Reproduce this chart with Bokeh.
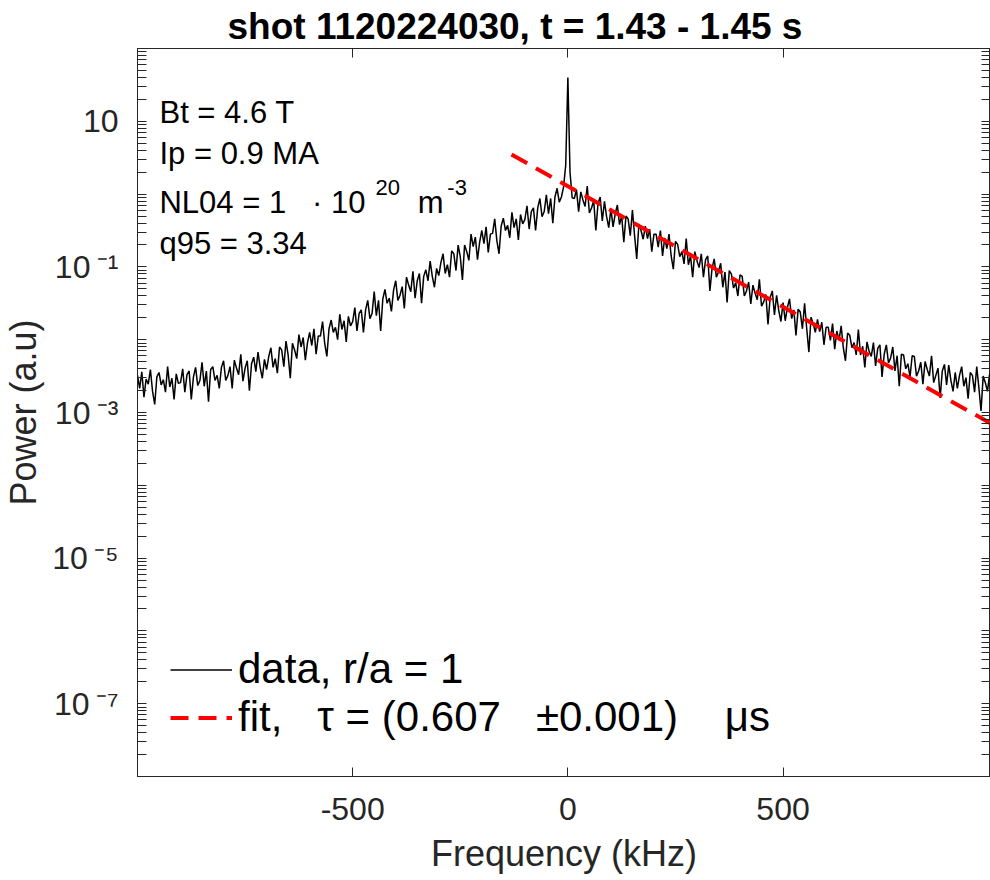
import numpy as np
from bokeh.plotting import figure
from bokeh.models import (ColumnDataSource, FixedTicker, LogAxis, LinearAxis, Label,
                          Legend, LegendItem, Range1d)
from bokeh.embed import file_html
from bokeh.resources import INLINE

# ---------------- data ----------------
# spectral bins, 5 kHz apart, -1000 ... 1000 kHz
freq_khz = np.arange(-1000, 1001, 5)

# log10 of power, negative frequencies (-1000 ... -5 kHz)
log_power_neg = [
    -2.49, -2.67, -2.44, -2.79, -2.54, -2.61, -2.41, -2.71, -2.89, -2.51, -2.45, -2.62, -2.55, -2.72, -2.37, -2.65, -2.53, -2.82, -2.47, -2.60,
    -2.59, -2.40, -2.72, -2.48, -2.43, -2.82, -2.51, -2.38, -2.63, -2.56, -2.31, -2.64, -2.43, -2.85, -2.41, -2.37, -2.56, -2.49, -2.67, -2.38,
    -2.29, -2.56, -2.49, -2.37, -2.67, -2.28, -2.39, -2.48, -2.20, -2.57, -2.39, -2.29, -2.70, -2.33, -2.24, -2.44, -2.17, -2.38, -2.53, -2.27,
    -2.41, -2.23, -2.11, -2.38, -2.26, -2.46, -2.10, -2.14, -2.37, -2.02, -2.21, -2.53, -2.05, -2.14, -2.26, -1.93, -2.10, -1.97, -2.28, -2.04,
    -1.90, -2.08, -1.85, -2.20, -1.95, -1.95, -1.75, -2.05, -2.23, -1.85, -1.73, -1.90, -1.83, -2.00, -1.65, -1.86, -1.74, -2.03, -1.68, -1.81,
    -1.75, -1.56, -1.88, -1.64, -1.59, -1.90, -1.59, -1.46, -1.71, -1.64, -1.34, -1.67, -1.46, -1.88, -1.44, -1.31, -1.50, -1.43, -1.61, -1.32,
    -1.19, -1.46, -1.39, -1.27, -1.57, -1.14, -1.25, -1.34, -1.06, -1.43, -1.19, -1.09, -1.50, -1.13, -1.04, -1.19, -0.92, -1.13, -1.28, -1.02,
    -1.12, -0.94, -0.82, -1.09, -0.97, -1.14, -0.78, -0.82, -1.05, -0.70, -0.86, -1.18, -0.70, -0.79, -0.91, -0.55, -0.72, -0.59, -0.90, -0.66,
    -0.50, -0.68, -0.45, -0.80, -0.55, -0.54, -0.34, -0.64, -0.82, -0.44, -0.33, -0.50, -0.43, -0.60, -0.25, -0.46, -0.34, -0.63, -0.28, -0.41,
    -0.35, -0.16, -0.48, -0.24, -0.19, -0.50, -0.19, -0.06, -0.31, -0.24, -0.01, -0.27, -0.06, -0.40, -0.04, 0.08, -0.11, -0.04, 0.10, 0.40,
]
# log10 of power at 0 kHz (narrow peak)
log_power_zero = [1.60]
# log10 of power, positive frequencies (5 ... 1000 kHz)
log_power_pos = [
    0.30, -0.05, -0.06, 0.06, -0.24, 0.03, -0.08, -0.17, 0.11, -0.26, -0.19, -0.09, -0.50, -0.13, -0.04, -0.37, -0.10, -0.31, -0.46, -0.20,
    -0.45, -0.27, -0.15, -0.42, -0.30, -0.66, -0.30, -0.34, -0.57, -0.22, -0.57, -0.89, -0.41, -0.50, -0.62, -0.44, -0.61, -0.48, -0.79, -0.55,
    -0.55, -0.73, -0.50, -0.85, -0.60, -0.75, -0.55, -0.85, -1.03, -0.65, -0.69, -0.86, -0.79, -0.96, -0.61, -0.97, -0.85, -1.14, -0.79, -0.92,
    -1.01, -0.82, -1.14, -0.90, -0.85, -1.33, -1.02, -0.89, -1.14, -1.07, -0.95, -1.28, -1.07, -1.49, -1.05, -1.10, -1.29, -1.22, -1.40, -1.11,
    -1.13, -1.40, -1.33, -1.21, -1.51, -1.25, -1.36, -1.45, -1.17, -1.54, -1.48, -1.38, -1.79, -1.42, -1.33, -1.66, -1.39, -1.60, -1.75, -1.49,
    -1.74, -1.56, -1.44, -1.71, -1.59, -1.94, -1.58, -1.62, -1.85, -1.50, -1.85, -2.17, -1.69, -1.78, -1.90, -1.72, -1.89, -1.76, -2.07, -1.83,
    -1.83, -2.01, -1.78, -2.13, -1.88, -2.01, -1.81, -2.11, -2.29, -1.91, -1.94, -2.11, -2.04, -2.21, -1.86, -2.21, -2.09, -2.38, -2.03, -2.16,
    -2.23, -2.04, -2.36, -2.12, -2.07, -2.51, -2.20, -2.07, -2.32, -2.25, -2.10, -2.43, -2.22, -2.64, -2.20, -2.21, -2.40, -2.33, -2.51, -2.22,
    -2.23, -2.50, -2.43, -2.31, -2.61, -2.30, -2.41, -2.50, -2.22, -2.59, -2.49, -2.39, -2.80, -2.43, -2.34, -2.62, -2.35, -2.56, -2.71, -2.45,
    -2.67, -2.49, -2.37, -2.64, -2.52, -2.81, -2.45, -2.49, -2.72, -2.37, -2.66, -2.98, -2.50, -2.59, -2.71, -2.47, -2.64, -2.51, -2.82, -2.58,
]

# exponential fit (straight line on the log axis)
fit_freq_khz = [-131, 982]
fit_power = [3.50, 7.1e-4]

# axis ticks
x_ticks = [-500, 0, 500]
x_tick_labels = {-500: "-500", 0: "0", 500: "500"}
y_ticks = [1e-7, 1e-5, 1e-3, 1e-1, 1e1]
y_tick_labels = {1e1: "10", 1e-1: "10\u2009\u207b\u00b9", 1e-3: "10\u2009\u207b\u00b3",
                 1e-5: "10\u2009\u207b\u2075", 1e-7: "10\u2009\u207b\u2077"}

NB = "\u00a0"  # non-breaking space (kept by SVG text)
data_label = "data, r/a = 1"
fit_label = "fit," + NB * 3 + "\u03c4 = (0.607" + NB * 3 + "\u00b10.001)" + NB * 4 + "\u03bcs"

# ---------------- build ----------------
log_power = log_power_neg + log_power_zero + log_power_pos
assert len(log_power) == len(freq_khz)
power = 10.0 ** np.array(log_power)

src = ColumnDataSource(dict(f=freq_khz, p=power))
fit_src = ColumnDataSource(dict(f=fit_freq_khz, p=fit_power))

FONT = "Liberation Sans"
AX = "#262626"

p = figure(width=990, height=880, output_backend="svg", toolbar_location=None,
           x_range=Range1d(-1000, 982), y_range=Range1d(1e-8, 1e2), y_axis_type="log",
           min_border_left=137, min_border_right=0, min_border_top=48, min_border_bottom=104)
p.background_fill_color = "white"
p.border_fill_color = "white"
p.outline_line_color = AX
p.xgrid.visible = False
p.ygrid.visible = False

minor = []
for k in range(-8, 2):
    for m in range(1, 10):
        v = m * 10.0 ** k
        if not any(abs(v - t) / t < 1e-9 for t in y_ticks):
            minor.append(v)
minor.append(1e2)
yticker = FixedTicker(ticks=y_ticks, minor_ticks=minor)
xticker = FixedTicker(ticks=x_ticks)

# bottom axis
xa = p.xaxis[0]
xa.ticker = xticker
xa.major_label_overrides = x_tick_labels
xa.axis_label = "Frequency (kHz)"
xa.axis_line_color = AX
xa.major_tick_line_color = AX
xa.major_tick_in = 9
xa.major_tick_out = 0
xa.minor_tick_in = 0
xa.minor_tick_out = 0
xa.major_label_text_font = FONT
xa.major_label_text_font_size = "32px"
xa.major_label_text_color = AX
xa.major_label_standoff = 21
xa.axis_label_text_font = FONT
xa.axis_label_text_font_size = "36px"
xa.axis_label_text_font_style = "normal"
xa.axis_label_text_color = AX
xa.axis_label_standoff = 10

ya = p.yaxis[0]
ya.ticker = yticker
ya.major_label_overrides = y_tick_labels
ya.axis_label = "Power (a.u)"
ya.axis_line_color = AX
ya.major_tick_line_color = AX
ya.minor_tick_line_color = AX
ya.major_tick_in = 9
ya.major_tick_out = 0
ya.minor_tick_in = 9
ya.minor_tick_out = 0
ya.major_label_text_font = FONT
ya.major_label_text_font_size = "32px"
ya.major_label_text_color = AX
ya.major_label_standoff = 19
ya.axis_label_text_font = FONT
ya.axis_label_text_font_size = "36px"
ya.axis_label_text_font_style = "normal"
ya.axis_label_text_color = AX
ya.axis_label_standoff = 5

top = LinearAxis(ticker=xticker, major_label_overrides={t: "" for t in x_ticks},
                 major_label_standoff=0, major_label_text_font_size="10px",
                 major_tick_in=9, major_tick_out=0, minor_tick_in=0, minor_tick_out=0,
                 axis_line_color=AX, major_tick_line_color=AX)
right = LogAxis(ticker=yticker, major_label_overrides={t: "" for t in y_ticks},
                major_label_standoff=0, major_label_text_font_size="10px",
                major_tick_in=9, major_tick_out=0, minor_tick_in=9, minor_tick_out=0,
                axis_line_color=AX, major_tick_line_color=AX, minor_tick_line_color=AX)
p.add_layout(top, "above")
p.add_layout(right, "right")

p.title.text = "shot 1120224030, t = 1.43 - 1.45 s"
p.title.align = "left"
p.title.offset = 90
p.title.text_font = FONT
p.title.text_font_size = "37px"
p.title.text_font_style = "bold"
p.title.text_color = "black"
p.title.standoff = 4

r_data = p.line("f", "p", source=src, line_color="black", line_width=1.5)
r_fit = p.line("f", "p", source=fit_src, line_color="#ff0000", line_width=4, line_dash="18 10")

legend = Legend(items=[LegendItem(label=data_label, renderers=[r_data]),
                       LegendItem(label=fit_label, renderers=[r_fit])],
                location=(33, 35), padding=0, margin=0, spacing=0,
                glyph_width=62, glyph_height=45, label_height=45, label_standoff=6,
                label_text_font=FONT, label_text_font_size="42px", label_text_color="black",
                border_line_alpha=0, background_fill_alpha=0)
p.add_layout(legend, "center")

# annotation text (placed in data coordinates)
def lab(x, y, t, size):
    p.add_layout(Label(x=x, y=y, text=t, text_font=FONT, text_font_size=size,
                       text_color="black", text_align="left", text_baseline="alphabetic"))

lab(-949, 13.2, "Bt = 4.6 T", "31px")
lab(-949, 3.61, "Ip = 0.9 MA", "31px")
lab(-949, 0.767, "NL04 = 1" + NB * 3 + "\u00b7 10", "31px")
lab(-447, 1.23, "20", "22px")
lab(-349, 0.767, "m", "31px")
lab(-280, 1.23, "-3", "22px")
lab(-949, 0.2094, "q95 = 3.34", "31px")

open("out.html", "w").write(file_html(p, INLINE))
